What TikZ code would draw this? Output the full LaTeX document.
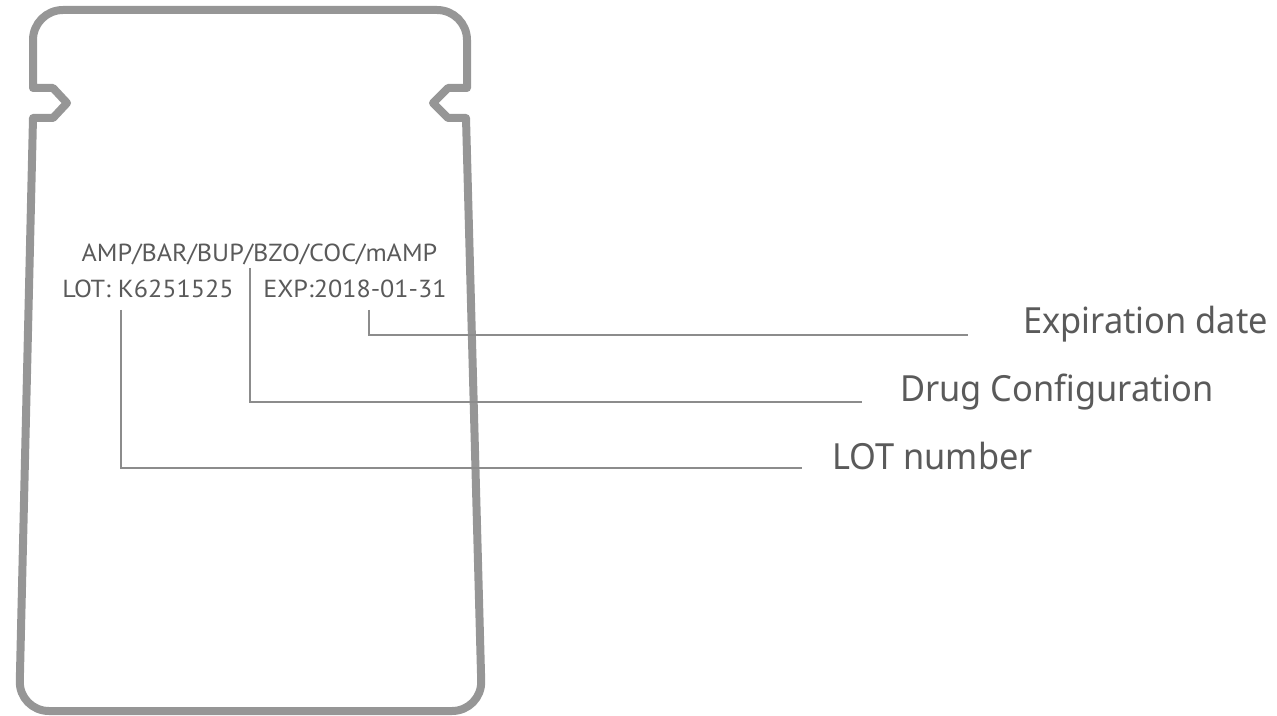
\documentclass[tikz,border=0pt]{standalone}
\usepackage{fontspec}
\setmainfont{Noto Sans}[FakeStretch=0.955]
\newfontfamily\pouchfont{PT Sans}[FakeStretch=1.06]
\definecolor{pouchgray}{HTML}{969696}
\definecolor{linegray}{HTML}{8C8C8C}
\definecolor{textgray}{HTML}{5A5A5A}
\tikzset{
  pouch/.style={draw=pouchgray, line width=6pt, line join=round},
  conn/.style={draw=linegray, line width=1.1pt},
  pouchtext/.style={inner sep=0pt, text=textgray, font=\pouchfont\fontsize{18.5pt}{20pt}\selectfont},
  label/.style={inner sep=0pt, text=textgray, font=\fontsize{27pt}{30pt}\selectfont},
}
\begin{document}
\begin{tikzpicture}[x=0.75pt,y=-0.75pt]
\useasboundingbox (0,0) rectangle (1277,716);
% pouch outline
\draw[pouch] (250,10) -- (437,10)
  .. controls (453.6,10) and (467,23.4) .. (467,40)
  -- (467,88) -- (448,88) -- (433,103) -- (448,118) -- (466,118)
  -- (481.2,681)
  .. controls (481.7,697.6) and (468.6,711) .. (452,711)
  -- (49,711)
  .. controls (32.4,711) and (19.3,697.6) .. (19.8,681)
  -- (33,118) -- (53,118) -- (67,103) -- (53,88) -- (33,88)
  -- (33,40)
  .. controls (33,23.4) and (46.4,10) .. (63,10) -- cycle;
% pouch texts
\node[pouchtext, anchor=base] (drug) at (259.5,262) {AMP/BAR/BUP/BZO/COC/mAMP};
\node[pouchtext, anchor=base west] (lot) at (62,298) {LOT: K6251525};
\node[pouchtext, anchor=base west] (exp) at (263,298) {EXP:2018-01-31};
% labels
\node[label, anchor=base west] (expl) at (1023,334) {Expiration date};
\node[label, anchor=base west] (drugl) at (900,402) {Drug Configuration};
\node[label, anchor=base west] (lotl) at (832,469) {LOT number};
% connector coordinates
\coordinate (expS) at (369,310);
\coordinate (expE) at (968,335);
\coordinate (drugS) at (250,268);
\coordinate (drugE) at (862,402);
\coordinate (lotS) at (121,310);
\coordinate (lotE) at (802,468);
\draw[conn] (expS) |- (expE);
\draw[conn] (drugS) |- (drugE);
\draw[conn] (lotS) |- (lotE);
\end{tikzpicture}
\end{document}
